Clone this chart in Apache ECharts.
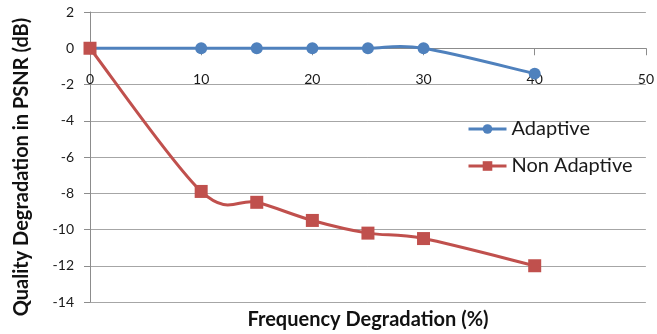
<!DOCTYPE html>
<html>
<head>
<meta charset="utf-8">
<script src="https://cdn.jsdelivr.net/npm/echarts@6/dist/echarts.min.js"></script>
<style>
  html, body { margin: 0; padding: 0; background: #fff; }
  #chart { width: 657px; height: 334px; }
</style>
</head>
<body>
<div id="chart"></div>
<script>
// Frequency degradation (%) on the x axis
const freqDegradation = [0, 10, 15, 20, 25, 30, 40];
// PSNR change (dB) for each scheme
const adaptive = [0, 0, 0, 0, 0, 0, -1.4];
const nonAdaptive = [0, -7.9, -8.5, -9.5, -10.2, -10.5, -12];
// Axis ranges
const xRange = { min: 0, max: 50, interval: 10 };
const yRange = { min: -14, max: 2, interval: 2 };

const pairs = (xs, ys) => xs.map((x, i) => [x, ys[i]]);

const FONT = 'Lato, "Open Sans", sans-serif';
const BLUE = '#4F81BD';
const RED = '#C0504D';
const AXIS_GRAY = '#8c8c8c';

const el = document.getElementById('chart');
const chart = echarts.init(el, null, { renderer: 'canvas' });

const grid = { left: 90, right: 10, top: 12, bottom: 32 };
// The x axis runs along y = 0, so shift it up from the bottom edge of the grid
const gridHeight = chart.getHeight() - grid.top - grid.bottom;
const xAxisOffset = -gridHeight * (0 - yRange.min) / (yRange.max - yRange.min);

// Smoothed curve drawn segment by segment: cubic Bezier pieces whose
// control points follow the neighbouring points (Catmull-Rom, tension 1/6).
function smoothCurve(xs, ys, color) {
  const n = xs.length;
  return {
    type: 'custom',
    silent: true,
    data: pairs(xs, ys).slice(0, n - 1),
    encode: { x: 0, y: 1 },
    z: 2,
    renderItem(params, api) {
      const i = params.dataIndex;
      const pt = j => {
        const k = Math.max(0, Math.min(n - 1, j));
        return api.coord([xs[k], ys[k]]);
      };
      const p0 = pt(i - 1), p1 = pt(i), p2 = pt(i + 1), p3 = pt(i + 2);
      return {
        type: 'bezierCurve',
        shape: {
          x1: p1[0], y1: p1[1],
          x2: p2[0], y2: p2[1],
          cpx1: p1[0] + (p2[0] - p0[0]) / 6, cpy1: p1[1] + (p2[1] - p0[1]) / 6,
          cpx2: p2[0] - (p3[0] - p1[0]) / 6, cpy2: p2[1] - (p3[1] - p1[1]) / 6
        },
        style: { stroke: color, lineWidth: 3, fill: null, lineCap: 'round' }
      };
    }
  };
}

function markers(name, xs, ys, color, symbol, size) {
  return {
    name, type: 'line',
    data: pairs(xs, ys),
    symbol, symbolSize: size,
    lineStyle: { color, width: 3, opacity: 0 },
    itemStyle: { color },
    z: 3
  };
}

chart.setOption({
  animation: false,
  grid: Object.assign({ containLabel: false }, grid),
  xAxis: {
    type: 'value', min: xRange.min, max: xRange.max, interval: xRange.interval,
    position: 'bottom', offset: xAxisOffset,
    axisLine: { show: true, onZero: false, lineStyle: { color: AXIS_GRAY, width: 1 } },
    axisTick: { show: true, inside: false, length: 7, lineStyle: { color: AXIS_GRAY } },
    axisLabel: { color: '#1a1a1a', fontFamily: FONT, fontSize: 14, margin: 24 },
    splitLine: { show: false }
  },
  yAxis: {
    type: 'value', min: yRange.min, max: yRange.max, interval: yRange.interval,
    axisLine: { show: true, onZero: false, lineStyle: { color: AXIS_GRAY, width: 1 } },
    axisTick: { show: true, length: 6, lineStyle: { color: AXIS_GRAY } },
    axisLabel: { color: '#1a1a1a', fontFamily: FONT, fontSize: 14, margin: 16 },
    splitLine: { show: true, lineStyle: { color: '#a6a6a6', width: 1 } }
  },
  legend: {
    orient: 'vertical', left: 467, top: 119, itemGap: 17, padding: 0,
    itemWidth: 38, itemHeight: 12,
    textStyle: { color: '#1a1a1a', fontFamily: FONT, fontSize: 20, lineHeight: 20 },
    data: [
      { name: 'Adaptive', lineStyle: { color: BLUE, width: 3, opacity: 1 } },
      { name: 'Non Adaptive', lineStyle: { color: RED, width: 3, opacity: 1 } }
    ]
  },
  graphic: [
    {
      type: 'text', x: 368, y: 320,
      style: { text: 'Frequency Degradation (%)', fill: '#111', font: 'bold 20px ' + FONT, align: 'center', verticalAlign: 'middle' }
    },
    {
      type: 'text', x: 22, y: 167, rotation: Math.PI / 2,
      style: { text: 'Quality Degradation in PSNR (dB)', fill: '#111', font: 'bold 20px ' + FONT, align: 'center', verticalAlign: 'middle' }
    }
  ],
  series: [
    smoothCurve(freqDegradation, adaptive, BLUE),
    smoothCurve(freqDegradation, nonAdaptive, RED),
    markers('Adaptive', freqDegradation, adaptive, BLUE, 'circle', 12),
    markers('Non Adaptive', freqDegradation, nonAdaptive, RED, 'rect', 13)
  ]
});
</script>
</body>
</html>
